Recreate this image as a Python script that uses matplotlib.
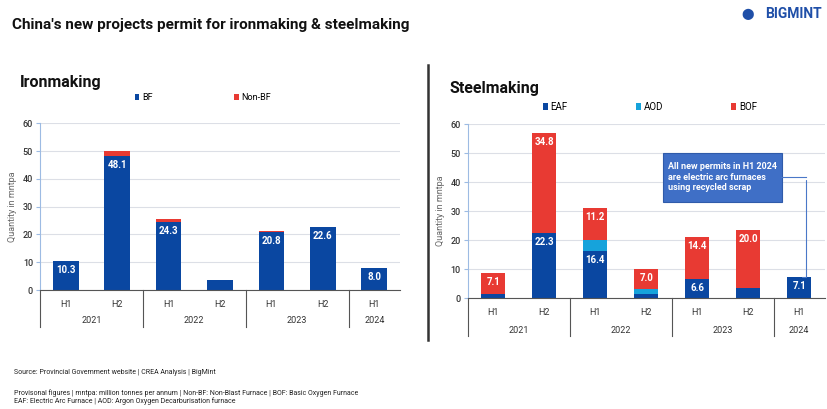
import matplotlib.pyplot as plt
from matplotlib.lines import Line2D
from matplotlib.patches import FancyBboxPatch
import matplotlib.transforms as mtransforms

plt.rcParams['font.family'] = ['Roboto', 'DejaVu Sans']

halves = ["H1", "H2", "H1", "H2", "H1", "H2", "H1"]
years = ["2021", "2022", "2023", "2024"]
year_spans = [(0, 1), (2, 3), (4, 5), (6, 6)]

# ironmaking, mntpa
iron_bf = [10.3, 48.1, 24.3, 3.7, 20.8, 22.6, 8.0]
iron_nonbf = [0.0, 2.0, 1.2, 0.0, 0.5, 0.0, 0.0]

# steelmaking, mntpa
steel_eaf = [1.5, 22.3, 16.4, 1.5, 6.6, 3.6, 7.1]
steel_aod = [0.0, 0.0, 3.6, 1.6, 0.0, 0.0, 0.0]
steel_bof = [7.1, 34.8, 11.2, 7.0, 14.4, 20.0, 0.0]

BLUE = "#0A47A1"
RED = "#E83A33"
CYAN = "#16A3DB"
GRID = "#DCDFE6"
TXT = "#333333"


def style_axis(ax):
    ax.set_xlim(-0.5, 6.5)
    ax.set_ylim(0, 60)
    ax.set_yticks(range(0, 61, 10))
    ax.grid(axis="y", color=GRID, lw=0.8)
    ax.set_axisbelow(True)
    for s in ["top", "right"]:
        ax.spines[s].set_visible(False)
    ax.spines["left"].set_color("#9DBBE3")
    ax.spines["bottom"].set_color("#555555")
    ax.tick_params(axis="y", length=3, color="#9DBBE3", labelsize=6.5,
                   labelcolor=TXT, pad=2)
    ax.tick_params(axis="x", length=0, labelsize=6.5, labelcolor=TXT, pad=7)
    for t in ax.get_yticklabels():
        t.set_fontweight("medium")
    ax.set_xticks(range(len(halves)))
    ax.set_xticklabels(halves)
    ax.set_ylabel("Quantity in mntpa", fontsize=6.5, color="#666666", labelpad=4)
    trans = mtransforms.blended_transform_factory(ax.transData, ax.transAxes)
    for xs in [-0.5, 1.5, 3.5, 5.5]:
        ax.add_line(Line2D([xs, xs], [0, -0.22], transform=trans, color="#555555",
                           lw=0.8, clip_on=False))
    for yr, (a, b) in zip(years, year_spans):
        ax.text((a + b) / 2, -0.185, yr, transform=trans, ha="center", va="center",
                fontsize=6.5, color=TXT)


def label_segments(ax, values, bottoms):
    for i, (v, b) in enumerate(zip(values, bottoms)):
        if v >= 5:
            ax.annotate(f"{v:.1f}", (i, b + v), xytext=(0, -9), textcoords="offset pixels",
                        ha="center", va="center", color="white", fontsize=7,
                        fontweight="bold")


fig = plt.figure(figsize=(8.27, 4.09), dpi=100)

x = range(len(halves))

# ironmaking panel
ax1 = fig.add_axes([40 / 827, 1 - 290 / 409, 360 / 827, 166.7 / 409])
ax1.bar(x, iron_bf, width=0.5, color=BLUE, label="BF")
ax1.bar(x, iron_nonbf, width=0.5, bottom=iron_bf, color=RED, label="Non-BF")
style_axis(ax1)
label_segments(ax1, iron_bf, [0] * 7)

# steelmaking panel
ax2 = fig.add_axes([467.7 / 827, 1 - 298 / 409, 357 / 827, 173.7 / 409])
eaf_aod = [a + b for a, b in zip(steel_eaf, steel_aod)]
ax2.bar(x, steel_eaf, width=0.47, color=BLUE, label="EAF")
ax2.bar(x, steel_aod, width=0.47, bottom=steel_eaf, color=CYAN, label="AOD")
ax2.bar(x, steel_bof, width=0.47, bottom=eaf_aod, color=RED, label="BOF")
style_axis(ax2)
label_segments(ax2, steel_eaf, [0] * 7)
label_segments(ax2, steel_bof, eaf_aod)

# callout
ax2.annotate("", xy=(6, steel_eaf[6]), xytext=(806 / 827, 1 - 177 / 409),
             textcoords="figure fraction",
             arrowprops=dict(arrowstyle="-", color="#4A78C8", lw=0.8,
                             connectionstyle="angle,angleA=90,angleB=0,rad=0"))
fig.add_artist(Line2D([781 / 827, 806 / 827], [1 - 177 / 409, 1 - 177 / 409],
                      color="#4A78C8", lw=0.8))
box = FancyBboxPatch((663 / 827, 1 - 202 / 409), 119 / 827, 49 / 409,
                     boxstyle="square,pad=0", transform=fig.transFigure,
                     facecolor="#3F6FC6", edgecolor="#2F5BAA", lw=0.8)
fig.add_artist(box)
fig.text(668 / 827, 1 - 177 / 409,
         "All new permits in H1 2024\nare electric arc furnaces\nusing recycled scrap",
         ha="left", va="center", color="white", fontsize=6.5, fontweight="bold",
         linespacing=1.15)

# legends
fig.legend(*ax1.get_legend_handles_labels(), loc="center", ncol=2,
           bbox_to_anchor=(203 / 827, 1 - 98 / 409), frameon=False, fontsize=6.5,
           handlelength=0.5, handleheight=0.6, columnspacing=9, handletextpad=0.3)
fig.legend(*ax2.get_legend_handles_labels(), loc="center", ncol=3,
           bbox_to_anchor=(650 / 827, 1 - 107 / 409), frameon=False, fontsize=7,
           handlelength=0.5, handleheight=0.6, columnspacing=7, handletextpad=0.3)

# titles and text
fig.text(12 / 827, 1 - 25 / 409,
         "China's new projects permit for ironmaking & steelmaking",
         fontsize=11, fontweight="bold", va="center", ha="left", color="#111111")
fig.text(20 / 827, 1 - 82 / 409, "Ironmaking", fontsize=11.5, fontweight="bold",
         va="center", ha="left", color="#111111")
fig.text(450 / 827, 1 - 88 / 409, "Steelmaking", fontsize=11.5, fontweight="bold",
         va="center", ha="left", color="#111111")
fig.text(822 / 827, 1 - 14 / 409, "BIGMINT", fontsize=10, fontweight="bold",
         va="center", ha="right", color="#1F4FA8")
fig.text(748 / 827, 1 - 14 / 409, "\u2b24", fontsize=8, va="center", ha="center",
         color="#1F4FA8")

fig.add_artist(Line2D([428 / 827, 428 / 827], [1 - 65 / 409, 1 - 340 / 409],
                      color="#333333", lw=1.8))

fig.text(14 / 827, 1 - 373 / 409,
         "Source: Provincial Government website | CREA Analysis | BigMint",
         fontsize=5, va="center", ha="left", color="#222222")
fig.text(14 / 827, 1 - 393 / 409,
         "Provisonal figures | mntpa: million tonnes per annum | Non-BF: Non-Blast Furnace | BOF: Basic Oxygen Furnace",
         fontsize=5, va="center", ha="left", color="#222222")
fig.text(14 / 827, 1 - 401 / 409,
         "EAF: Electric Arc Furnace | AOD: Argon Oxygen Decarburisation furnace",
         fontsize=5, va="center", ha="left", color="#222222")

fig.savefig("out.png", dpi=100)
